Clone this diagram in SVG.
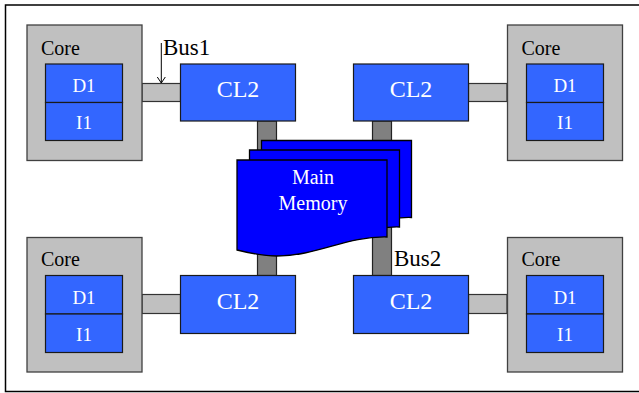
<svg xmlns="http://www.w3.org/2000/svg" width="639" height="393" viewBox="0 0 639 393">
<style>
.core{fill:#c0c0c0;stroke:#404040;stroke-width:1.3}
.cache{fill:#3366ff;stroke:#1a1a1a;stroke-width:1.2}
.bus{fill:#c0c0c0;stroke:#333;stroke-width:1.2}
.vbus{fill:#808080;stroke:#222;stroke-width:1.2}
.page{fill:#0000ff;stroke:#000;stroke-width:1.3}
text{font-family:"Liberation Serif","Times New Roman",serif}
.wt{fill:#fff;text-anchor:middle}
.bt{fill:#000}
</style>
<defs>
<path id="pg" d="M0,0 H150 V77 C110,76 80,96 40,96 C25,96 12,93 0,90 Z"/>
<marker id="ah" markerWidth="10" markerHeight="10" refX="9" refY="5" orient="auto" markerUnits="userSpaceOnUse" viewBox="0 0 10 10">
<path d="M3,1 L9,5 L3,9" fill="none" stroke="#000" stroke-width="1"/>
</marker>
</defs>
<rect x="5.5" y="5" width="700" height="386.5" fill="#fff" stroke="#000" stroke-width="1.5"/>
<g id="connectors">
<rect class="bus" x="142" y="83.5" width="38.5" height="18"/>
<rect class="bus" x="468.5" y="83.5" width="38.5" height="18"/>
<rect class="bus" x="142" y="294.5" width="38.5" height="19"/>
<rect class="bus" x="468.5" y="294.5" width="38.5" height="19"/>
<rect class="vbus" x="257.5" y="121" width="19" height="154.5"/>
<rect class="vbus" x="372.5" y="121" width="19" height="154.5"/>
<line x1="161.3" y1="43" x2="161.3" y2="83" stroke="#000" stroke-width="1" marker-end="url(#ah)"/>
<text class="bt" x="163" y="55" font-size="23">Bus1</text>
<text class="bt" x="394" y="266" font-size="23">Bus2</text>
</g>
<g id="core-tl">
<rect class="core" x="27" y="25" width="115" height="135.5"/>
<text class="bt" x="41" y="55" font-size="20">Core</text>
<rect class="cache" x="45.5" y="64" width="77" height="38.5"/>
<rect class="cache" x="45.5" y="102.5" width="77" height="38"/>
<text class="wt" x="84" y="92" font-size="19">D1</text>
<text class="wt" x="84" y="129" font-size="19">I1</text>
</g>
<g id="core-tr">
<rect class="core" x="507.5" y="25" width="115" height="135.5"/>
<text class="bt" x="521.5" y="55" font-size="20">Core</text>
<rect class="cache" x="526.5" y="64" width="77" height="38.5"/>
<rect class="cache" x="526.5" y="102.5" width="77" height="38"/>
<text class="wt" x="565" y="92" font-size="19">D1</text>
<text class="wt" x="565" y="129" font-size="19">I1</text>
</g>
<g id="core-bl">
<rect class="core" x="27" y="237.5" width="115" height="134.5"/>
<text class="bt" x="41" y="266" font-size="20">Core</text>
<rect class="cache" x="45.5" y="275.5" width="77" height="38.5"/>
<rect class="cache" x="45.5" y="314" width="77" height="38.5"/>
<text class="wt" x="84" y="303.5" font-size="19">D1</text>
<text class="wt" x="84" y="340.5" font-size="19">I1</text>
</g>
<g id="core-br">
<rect class="core" x="507.5" y="237.5" width="115" height="134.5"/>
<text class="bt" x="521.5" y="266" font-size="20">Core</text>
<rect class="cache" x="526.5" y="275.5" width="77" height="38.5"/>
<rect class="cache" x="526.5" y="314" width="77" height="38.5"/>
<text class="wt" x="565" y="303.5" font-size="19">D1</text>
<text class="wt" x="565" y="340.5" font-size="19">I1</text>
</g>
<g id="cl2-tl">
<rect class="cache" x="180.5" y="64" width="115" height="57"/>
<text class="wt" x="238" y="97" font-size="24">CL2</text>
</g>
<g id="cl2-tr">
<rect class="cache" x="353.5" y="64" width="115" height="57"/>
<text class="wt" x="411" y="97" font-size="24">CL2</text>
</g>
<g id="cl2-bl">
<rect class="cache" x="180.5" y="275.5" width="115" height="58"/>
<text class="wt" x="238" y="308.5" font-size="24">CL2</text>
</g>
<g id="cl2-br">
<rect class="cache" x="353.5" y="275.5" width="115" height="58"/>
<text class="wt" x="411" y="308.5" font-size="24">CL2</text>
</g>
<g id="main-memory">
<use href="#pg" class="page" x="261.5" y="140.5"/>
<use href="#pg" class="page" x="249.5" y="150"/>
<use href="#pg" class="page" x="237" y="160"/>
<text class="wt" x="313" y="184" font-size="20">Main</text>
<text class="wt" x="313" y="210" font-size="20">Memory</text>
</g>
</svg>
